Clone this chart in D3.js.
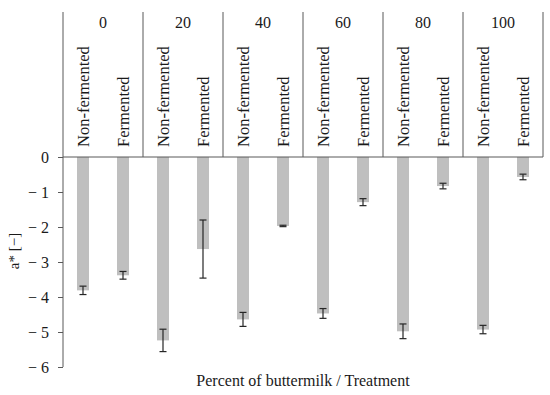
<!DOCTYPE html>
<html lang="en">
<head>
    <meta charset="UTF-8">
    <title>a* by buttermilk percent</title>
    <script src="https://d3js.org/d3.v7.min.js"></script>
    <style>
        body { margin: 0; background: #fff; }
        text { font-family: "Liberation Serif", "DejaVu Serif", serif; fill: #1a1a1a; }
    </style>
</head>
<body>
    <svg width="550" height="395"></svg>

    <script>
        // Percent of buttermilk groups and treatments
        const groups = ["0", "20", "40", "60", "80", "100"];
        const treatments = ["Non-fermented", "Fermented"];

        // Mean a* values per group (Non-fermented, Fermented)
        const nonFermented = [-3.81, -5.24, -4.64, -4.47, -4.98, -4.93];
        const fermented = [-3.38, -2.63, -1.97, -1.29, -0.83, -0.57];

        // Standard deviations (error bars)
        const nonFermentedErr = [0.12, 0.32, 0.20, 0.14, 0.21, 0.12];
        const fermentedErr = [0.11, 0.83, 0.02, 0.10, 0.08, 0.08];

        const yTicks = [0, -1, -2, -3, -4, -5, -6];

        const data = [];
        groups.forEach((g, i) => {
            data.push({ group: g, treatment: treatments[0], value: nonFermented[i], err: nonFermentedErr[i] });
            data.push({ group: g, treatment: treatments[1], value: fermented[i], err: fermentedErr[i] });
        });

        const margin = { top: 12, left: 63, right: 7 },
              width = 550 - margin.left - margin.right,
              zeroY = 157,
              bottomY = 367;

        const svg = d3.select("svg");
        const lineColor = "#595959";

        const x0 = d3.scaleBand()
                     .domain(groups)
                     .range([margin.left, margin.left + width]);

        const x1 = d3.scaleBand()
                     .domain(treatments)
                     .range([0, x0.bandwidth()]);

        const y = d3.scaleLinear()
                    .domain([0, -6])
                    .range([zeroY, bottomY]);

        const barWidth = 12;
        const cx = d => x0(d.group) + x1(d.treatment) + x1.bandwidth() / 2;

        // Bars
        svg.selectAll("rect.bar")
           .data(data)
           .enter()
           .append("rect")
           .attr("class", "bar")
           .attr("x", d => cx(d) - barWidth / 2)
           .attr("y", y(0))
           .attr("width", barWidth)
           .attr("height", d => y(d.value) - y(0))
           .attr("fill", "#bfbfbf");

        // Error bars
        const errG = svg.selectAll("g.err")
                        .data(data)
                        .enter()
                        .append("g")
                        .attr("class", "err")
                        .attr("stroke", "#262626")
                        .attr("stroke-width", 1.2);

        errG.append("line")
            .attr("x1", cx).attr("x2", cx)
            .attr("y1", d => y(d.value - d.err))
            .attr("y2", d => y(d.value + d.err));
        errG.append("line")
            .attr("x1", d => cx(d) - 3.5).attr("x2", d => cx(d) + 3.5)
            .attr("y1", d => y(d.value - d.err))
            .attr("y2", d => y(d.value - d.err));
        errG.append("line")
            .attr("x1", d => cx(d) - 3.5).attr("x2", d => cx(d) + 3.5)
            .attr("y1", d => y(d.value + d.err))
            .attr("y2", d => y(d.value + d.err));

        // Y axis
        const yAxis = svg.append("g")
           .attr("transform", `translate(${margin.left},0)`)
           .call(d3.axisLeft(y)
                   .tickValues(yTicks)
                   .tickSize(5)
                   .tickPadding(9)
                   .tickFormat(d => d === 0 ? "0" : "\u2212 " + Math.abs(d)));
        yAxis.select(".domain").remove();
        yAxis.selectAll(".tick line").attr("stroke", lineColor);
        yAxis.selectAll(".tick text")
             .style("font-family", "\"Liberation Serif\", serif")
             .style("font-size", "16px")
             .attr("fill", "#1a1a1a");

        svg.append("line")
           .attr("x1", margin.left).attr("x2", margin.left)
           .attr("y1", margin.top).attr("y2", bottomY)
           .attr("stroke", lineColor);

        // Zero line across plot
        svg.append("line")
           .attr("x1", margin.left).attr("x2", margin.left + width)
           .attr("y1", y(0)).attr("y2", y(0))
           .attr("stroke", lineColor);

        // Group divider lines in header
        svg.selectAll("line.divider")
           .data(groups.slice(1).concat(["end"]))
           .enter()
           .append("line")
           .attr("class", "divider")
           .attr("x1", d => d === "end" ? margin.left + width : x0(d))
           .attr("x2", d => d === "end" ? margin.left + width : x0(d))
           .attr("y1", margin.top)
           .attr("y2", y(0))
           .attr("stroke", lineColor);

        // Group labels
        svg.selectAll("text.group")
           .data(groups)
           .enter()
           .append("text")
           .attr("class", "group")
           .attr("x", d => x0(d) + x0.bandwidth() / 2)
           .attr("y", 28)
           .attr("text-anchor", "middle")
           .style("font-size", "16px")
           .text(d => d);

        // Treatment labels (rotated)
        svg.selectAll("text.treat")
           .data(data)
           .enter()
           .append("text")
           .attr("class", "treat")
           .attr("transform", d => `translate(${cx(d) + 5.5},147) rotate(-90)`)
           .attr("text-anchor", "start")
           .style("font-size", "16.5px")
           .text(d => d.treatment);

        // Axis titles
        svg.append("text")
           .attr("transform", "translate(19,251) rotate(-90)")
           .attr("text-anchor", "middle")
           .style("font-size", "15px")
           .text("a* [−]");

        svg.append("text")
           .attr("x", margin.left + width / 2)
           .attr("y", 386)
           .attr("text-anchor", "middle")
           .style("font-size", "16px")
           .text("Percent of buttermilk / Treatment");
    </script>
</body>
</html>
